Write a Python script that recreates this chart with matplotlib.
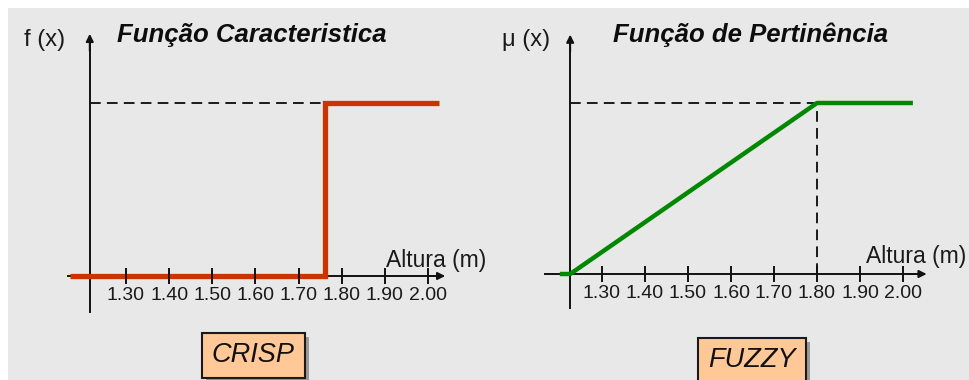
import matplotlib.pyplot as plt
from matplotlib.patches import Rectangle

plt.rcParams['font.family'] = ['Liberation Sans', 'DejaVu Sans']

W, H = 970, 380

# data
alturas = [1.30, 1.40, 1.50, 1.60, 1.70, 1.80, 1.90, 2.00]
tick_labels = ['1.30', '1.40', '1.50', '1.60', '1.70', '1.80', '1.90', '2.00']

crisp_x = [1.17, 1.762, 1.762, 2.025]
crisp_y = [0, 0, 1, 1]

fuzzy_x = [1.202, 1.226, 1.80, 2.023]
fuzzy_y = [0, 0, 1, 1]

fig = plt.figure(figsize=(W / 100, H / 100), dpi=100)
fig.patch.set_facecolor('white')

# pixel-space overlay for background and label boxes
bg = fig.add_axes([0, 0, 1, 1])
bg.set_xlim(0, W)
bg.set_ylim(H, 0)
bg.axis('off')
bg.add_patch(Rectangle((8, 8), W - 8, H - 8, fc='#e8e8e8', ec='none'))


def panel_rect(px130, px200, py0, py1, xlim, ylim):
    sx = (px200 - px130) / 0.7
    x0 = px130 - (1.30 - xlim[0]) * sx
    w = (xlim[1] - xlim[0]) * sx
    sy = py0 - py1
    top = py1 - (ylim[1] - 1) * sy
    bot = py0 + (0 - ylim[0]) * sy
    return [x0 / W, 1 - bot / H, w / W, (bot - top) / H]


def setup(ax, yaxis_x, xaxis_start, xaxis_end, ybot, ytop):
    ax.set_facecolor('none')
    for s in ['top', 'right']:
        ax.spines[s].set_visible(False)
    ax.spines['left'].set_position(('data', yaxis_x))
    ax.spines['bottom'].set_position(('data', 0))
    ax.spines['left'].set_bounds(ybot, ytop - 0.05)
    ax.spines['bottom'].set_bounds(xaxis_start, xaxis_end - 0.02)
    for s in ['left', 'bottom']:
        ax.spines[s].set_linewidth(1.4)
        ax.spines[s].set_color('#111111')
    ax.set_yticks([])
    ax.set_xticks(alturas, tick_labels)
    ax.tick_params(axis='x', direction='inout', length=12, width=1.4, pad=2,
                   labelsize=14, labelcolor='#1a1a1a', color='#111111')
    ax.xaxis.set_zorder(4)  # ticks above the curves
    arrow = dict(arrowstyle='-|>', color='#111111', lw=1.4, shrinkA=0, shrinkB=0,
                 mutation_scale=11)
    ax.annotate('', xy=(yaxis_x, ytop), xytext=(yaxis_x, ytop - 0.1),
                arrowprops=arrow)
    ax.annotate('', xy=(xaxis_end, 0), xytext=(xaxis_end - 0.04, 0),
                arrowprops=arrow)


dash = (0, (5.5, 3.2))

# CRISP panel
ax1 = fig.add_axes(panel_rect(126, 428, 276, 103, (1.10, 2.25), (-0.3, 1.55)))
ax1.set_xlim(1.10, 2.25)
ax1.set_ylim(-0.3, 1.55)
setup(ax1, 1.216, 1.165, 2.04, -0.21, 1.40)
ax1.plot([1.216, crisp_x[1]], [1, 1], color='#1a1a1a', lw=1.4, ls=dash)
ax1.plot(crisp_x, crisp_y, color='#cc3300', lw=3.8, solid_joinstyle='miter',
         solid_capstyle='butt', zorder=3)

# FUZZY panel
ax2 = fig.add_axes(panel_rect(602, 903, 274, 103, (1.10, 2.25), (-0.3, 1.55)))
ax2.set_xlim(1.10, 2.25)
ax2.set_ylim(-0.3, 1.55)
setup(ax2, 1.226, 1.167, 2.055, -0.2, 1.40)
ax2.plot([1.226, fuzzy_x[2]], [1, 1], color='#1a1a1a', lw=1.4, ls=dash)
ax2.plot([fuzzy_x[2], fuzzy_x[2]], [0, 1], color='#1a1a1a', lw=1.4, ls=dash)
ax2.plot(fuzzy_x, fuzzy_y, color='#008800', lw=3.2, solid_capstyle='butt',
         zorder=3)

# texts in pixel coordinates
bg.text(45, 40, 'f (x)', fontsize=17, ha='center', va='center', color='#1a1a1a')
bg.text(252, 35, 'Função Caracteristica', fontsize=18.5, fontweight='bold',
        style='italic', ha='center', va='center', color='#0d0d0d')
bg.text(436, 261, 'Altura (m)', fontsize=16.5, ha='center', va='center',
        color='#1a1a1a')

bg.text(526, 40, 'μ (x)', fontsize=17, ha='center', va='center', color='#1a1a1a')
bg.text(751, 35, 'Função de Pertinência', fontsize=18.5, fontweight='bold',
        style='italic', ha='center', va='center', color='#0d0d0d')
bg.text(916, 256, 'Altura (m)', fontsize=16.5, ha='center', va='center',
        color='#1a1a1a')

# CRISP / FUZZY boxes
for (x0, y0, w, h, label) in [(202, 333, 103, 45, 'CRISP'), (698, 338, 108, 50, 'FUZZY')]:
    bg.add_patch(Rectangle((x0 + 4, y0 + 4), w, h, fc='#9a9a9a', ec='none'))
    bg.add_patch(Rectangle((x0, y0), w, h, fc='#ffc896', ec='#1a1a1a', lw=1.5))
    bg.text(x0 + w / 2, y0 + 22, label, fontsize=19.5, style='italic',
            ha='center', va='center', color='#111111')

fig.savefig('out.png', dpi=100)
